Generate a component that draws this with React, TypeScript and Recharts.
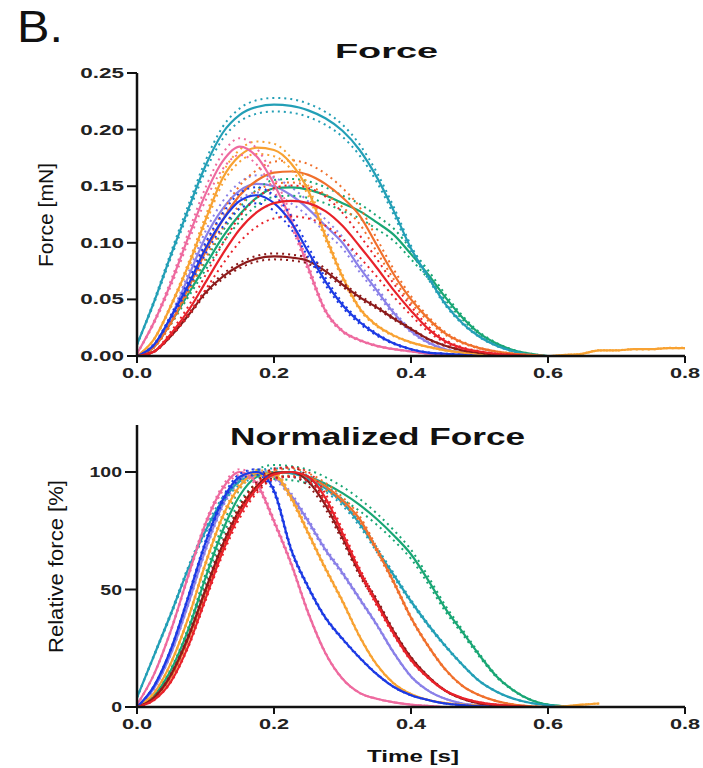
import { LineChart, Line, XAxis, YAxis } from 'recharts';

// time grid in seconds
const time = [
  0, 0.025, 0.05, 0.075, 0.1, 0.125, 0.15, 0.175, 0.2, 0.225, 0.25, 0.275, 0.3, 0.325, 0.35, 0.375, 0.4,
  0.425, 0.45, 0.475, 0.5, 0.525, 0.55, 0.575, 0.6, 0.625, 0.65, 0.675, 0.7, 0.725, 0.75, 0.775, 0.8,
];

const xTicks = [0, 0.2, 0.4, 0.6, 0.8];
const forceTicks = [0, 0.05, 0.1, 0.15, 0.2, 0.25];
const relTicks = [0, 50, 100];

// mean force [mN]
const forceTeal = [0.01, 0.048, 0.09, 0.13, 0.168, 0.197, 0.213, 0.22, 0.222, 0.221, 0.217, 0.21, 0.199, 0.182, 0.158, 0.128, 0.095, 0.07, 0.046, 0.029, 0.017, 0.009, 0.004, 0.001, 0, 0, 0];
const forcePink = [0.002, 0.03, 0.065, 0.105, 0.143, 0.172, 0.185, 0.176, 0.152, 0.12, 0.078, 0.04, 0.022, 0.014, 0.009, 0.006, 0.004, 0.002, 0.001, 0, 0, 0, 0, 0, 0, 0, 0];
const forceOrange = [0, 0.015, 0.045, 0.08, 0.12, 0.157, 0.177, 0.184, 0.182, 0.17, 0.146, 0.106, 0.07, 0.042, 0.027, 0.018, 0.012, 0.008, 0.005, 0.003, 0.002, 0.001, 0, 0, 0, 0.001, 0.002, 0.005, 0.005, 0.006, 0.006, 0.007, 0.007];
const forceDarkOrange = [0, 0.008, 0.03, 0.06, 0.092, 0.12, 0.142, 0.155, 0.162, 0.163, 0.16, 0.152, 0.14, 0.124, 0.098, 0.072, 0.05, 0.033, 0.02, 0.012, 0.007, 0.004, 0.002, 0.001, 0, 0, 0];
const forceGreen = [0, 0.008, 0.03, 0.055, 0.08, 0.105, 0.125, 0.14, 0.148, 0.149, 0.147, 0.142, 0.135, 0.128, 0.118, 0.107, 0.09, 0.072, 0.052, 0.034, 0.02, 0.011, 0.005, 0.002, 0, 0, 0];
const forceLavender = [0, 0.01, 0.035, 0.07, 0.105, 0.13, 0.146, 0.152, 0.15, 0.142, 0.13, 0.115, 0.1, 0.078, 0.058, 0.038, 0.022, 0.012, 0.006, 0.003, 0.001, 0, 0, 0, 0, 0, 0];
const forceBlue = [0, 0.01, 0.035, 0.063, 0.095, 0.12, 0.137, 0.142, 0.135, 0.118, 0.092, 0.066, 0.045, 0.03, 0.019, 0.011, 0.006, 0.003, 0.002, 0.001, 0, 0, 0, 0, 0, 0, 0];
const forceRed = [0, 0.004, 0.02, 0.04, 0.065, 0.09, 0.112, 0.127, 0.135, 0.137, 0.135, 0.128, 0.115, 0.097, 0.078, 0.058, 0.04, 0.024, 0.013, 0.007, 0.004, 0.002, 0.001, 0, 0, 0, 0];
const forceMaroon = [0, 0.004, 0.018, 0.036, 0.056, 0.07, 0.08, 0.086, 0.088, 0.087, 0.084, 0.075, 0.063, 0.052, 0.043, 0.033, 0.024, 0.015, 0.009, 0.005, 0.003, 0.001, 0, 0, 0, 0, 0];

// mean relative force [%]
const relTeal = [4, 22, 40, 59, 75, 88, 96, 99, 100, 99.5, 97, 93, 87, 78, 67, 56, 45, 35, 26, 18, 11, 6.5, 3.5, 1.7, 0.7, 0.2, 0];
const relPink = [1, 14, 33, 56, 78, 93, 100, 95, 79, 61, 40, 23, 12, 6, 3.5, 2, 1, 0.5, 0, 0, 0, 0, 0, 0, 0, 0, 0];
const relOrange = [0, 6, 19, 38, 61, 81, 94, 99.5, 99, 89, 74, 59, 45, 30, 18, 10, 5.5, 3, 1.7, 1, 0.5, 0.2, 0, 0, 0, 0.3, 1, 1.5];
const relDarkOrange = [0, 4, 13, 29, 49, 68, 84, 94, 99, 100, 98, 94, 88, 80, 67, 53, 38, 26, 16, 9, 5, 2.5, 1, 0.3, 0, 0, 0];
const relGreen = [0, 5, 16, 33, 55, 75, 90, 98, 100, 99.5, 98, 95, 91, 86, 80, 73, 65, 54, 42, 32, 22, 13, 7, 3, 1, 0.3, 0];
const relLavender = [0, 8, 23, 44, 67, 86, 97, 100, 98, 90, 79, 67, 57, 46, 35, 23, 13, 7, 3.5, 1.5, 0.7, 0.3, 0, 0, 0, 0, 0];
const relBlue = [0, 9, 25, 47, 70, 88, 98, 100, 92, 67, 51, 38, 29, 21, 14, 8.5, 5, 3, 1.5, 0.8, 0.3, 0, 0, 0, 0, 0, 0];
const relRed = [0, 3, 11, 26, 46, 66, 82, 93, 99, 100, 98, 89, 74, 58, 44, 31, 20, 12.5, 7, 3.8, 2, 1, 0.4, 0, 0, 0, 0];
const relMaroon = [0, 4, 14, 30, 50, 69, 84, 94, 99.5, 100, 96, 86, 72, 57, 45, 32, 21, 13, 7, 3.5, 1.5, 0.7, 0.2, 0, 0, 0, 0];

// relative spread of the dotted SEM lines
const forceSem = { lavender: 0.05, green: 0.05, teal: 0.027, darkOrange: 0.06, orange: 0.03, pink: 0.04, maroon: 0.03, blue: 0.05, red: 0.1 };
const relSem = { lavender: 0.012, green: 0.03, teal: 0.015, darkOrange: 0.015, orange: 0.012, pink: 0.012, maroon: 0.02, blue: 0.012, red: 0.02 };

const order = ['lavender', 'green', 'teal', 'darkOrange', 'orange', 'pink', 'maroon', 'blue', 'red'];

const colors: Record<string, string> = {
  lavender: '#8a80e8',
  green: '#19a674',
  teal: '#239fb6',
  darkOrange: '#f0702c',
  orange: '#f8a232',
  pink: '#ee6a9f',
  maroon: '#8c1a1a',
  blue: '#1c3ae4',
  red: '#e8222a',
};

const forceData: Record<string, number[]> = {
  lavender: forceLavender, green: forceGreen, teal: forceTeal, darkOrange: forceDarkOrange,
  orange: forceOrange, pink: forcePink, maroon: forceMaroon, blue: forceBlue, red: forceRed,
};
const relData: Record<string, number[]> = {
  lavender: relLavender, green: relGreen, teal: relTeal, darkOrange: relDarkOrange,
  orange: relOrange, pink: relPink, maroon: relMaroon, blue: relBlue, red: relRed,
};

function buildRows(data: Record<string, number[]>, sem: Record<string, number>) {
  return time.map((t, i) => {
    const row: Record<string, number | null> = { t };
    order.forEach((k) => {
      const v = data[k][i];
      row[k] = v ?? null;
      row[k + 'Hi'] = v == null ? null : v * (1 + sem[k]);
      row[k + 'Lo'] = v == null ? null : v * (1 - sem[k]);
    });
    return row;
  });
}

const forceRows = buildRows(forceData, forceSem);
const relRows = buildRows(relData, relSem);

const FONT = '"Liberation Sans", Arial, sans-serif';

function YTick(props: any) {
  const { x, y, payload, fmt, sx } = props;
  return (
    <g transform={`translate(${x},${y})`}>
      <text transform={`scale(${sx},1)`} textAnchor="end" dy={5} fontSize={15} fontWeight={700} fontFamily={FONT} fill="#222">
        {fmt(payload.value)}
      </text>
    </g>
  );
}

function XTick(props: any) {
  const { x, y, payload } = props;
  return (
    <g transform={`translate(${x},${y})`}>
      <text transform="scale(1.45,1)" textAnchor="middle" dy={13} fontSize={15} fontWeight={700} fontFamily={FONT} fill="#222">
        {payload.value.toFixed(1)}
      </text>
    </g>
  );
}

function seriesLines() {
  const out: any[] = [];
  order.forEach((k) => {
    out.push(
      <Line key={k + 'Hi'} dataKey={k + 'Hi'} type="monotone" stroke={colors[k]} strokeWidth={2} strokeDasharray="2 4" dot={false} isAnimationActive={false} />,
      <Line key={k + 'Lo'} dataKey={k + 'Lo'} type="monotone" stroke={colors[k]} strokeWidth={2} strokeDasharray="2 4" dot={false} isAnimationActive={false} />,
      <Line key={k} dataKey={k} type="monotone" stroke={colors[k]} strokeWidth={2.2} dot={false} isAnimationActive={false} />
    );
  });
  return out;
}

const axisLine = { stroke: '#111', strokeWidth: 2.5 };
const tickLine = { stroke: '#111', strokeWidth: 2 };

export default function App() {
  return (
    <div style={{ position: 'relative', width: 703, height: 768, background: '#fff', overflow: 'hidden' }}>
      <style>{'body{margin:0;}'}</style>
      <div style={{ position: 'absolute', left: 0, top: 0 }}>
        <LineChart width={703} height={400} data={forceRows} margin={{ top: 73, right: 18, bottom: 14, left: 77 }}>
          <XAxis type="number" dataKey="t" domain={[0, 0.8]} ticks={xTicks} height={30} axisLine={axisLine} tickLine={tickLine} tickSize={7} tick={<XTick />} />
          <YAxis type="number" domain={[0, 0.25]} ticks={forceTicks} width={60} axisLine={axisLine} tickLine={tickLine} tickSize={10} tickMargin={3}
            tick={(p: any) => <YTick {...p} sx={1.5} fmt={(v: number) => v.toFixed(2)} />} />
          {seriesLines()}
        </LineChart>
      </div>
      <div style={{ position: 'absolute', left: 0, top: 380 }}>
        <LineChart width={703} height={370} data={relRows} margin={{ top: 45, right: 18, bottom: 13, left: 77 }}>
          <XAxis type="number" dataKey="t" domain={[0, 0.8]} ticks={xTicks} height={30} axisLine={axisLine} tickLine={tickLine} tickSize={7} tick={<XTick />} />
          <YAxis type="number" domain={[0, 120]} ticks={relTicks} width={60} axisLine={axisLine} tickLine={tickLine} tickSize={12} tickMargin={3}
            tick={(p: any) => <YTick {...p} sx={1.3} fmt={(v: number) => String(v)} />} />
          {seriesLines()}
        </LineChart>
      </div>
      <svg width={703} height={768} style={{ position: 'absolute', left: 0, top: 0, pointerEvents: 'none' }}>
        <text x={17} y={42} fontSize={44} fontFamily={FONT} fill="#111" textLength={46} lengthAdjust="spacingAndGlyphs">B.</text>
        <text x={335} y={58} fontSize={21} fontWeight={700} fontFamily={FONT} fill="#111" textLength={103} lengthAdjust="spacingAndGlyphs">Force</text>
        <text x={230} y={445} fontSize={23} fontWeight={700} fontFamily={FONT} fill="#111" textLength={295} lengthAdjust="spacingAndGlyphs">Normalized Force</text>
        <text x={367} y={762} fontSize={16} fontWeight={700} fontFamily={FONT} fill="#111" textLength={92} lengthAdjust="spacingAndGlyphs">Time [s]</text>
        <text transform="translate(53,267) rotate(-90)" fontSize={20} fontFamily={FONT} fill="#111" textLength={104} lengthAdjust="spacingAndGlyphs">Force [mN]</text>
        <text transform="translate(63,653) rotate(-90)" fontSize={20} fontFamily={FONT} fill="#111" textLength={173} lengthAdjust="spacingAndGlyphs">Relative force [%]</text>
      </svg>
    </div>
  );
}
